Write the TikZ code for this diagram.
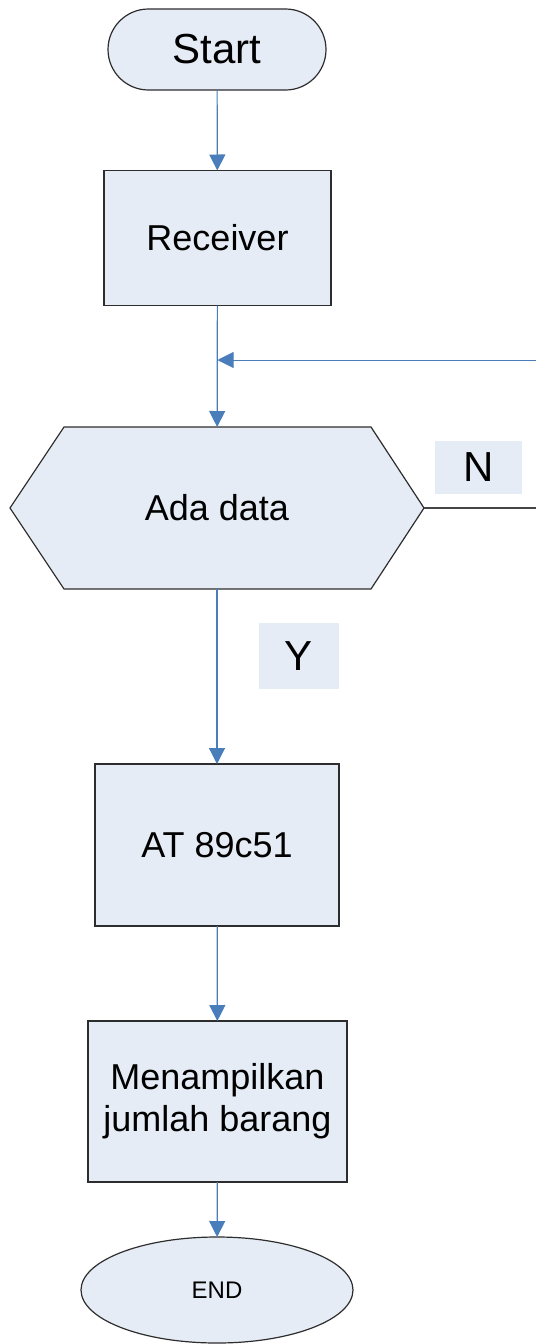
\documentclass[tikz,border=0pt]{standalone}
\usepackage{fontspec}
\setmainfont{Liberation Sans}
\usetikzlibrary{arrows.meta,shapes.misc,shapes.geometric}

\definecolor{boxfill}{RGB}{230,236,246}
\definecolor{boxline}{RGB}{45,45,45}
\definecolor{flowblue}{RGB}{74,126,187}
\definecolor{nline}{RGB}{70,70,70}

\tikzset{
  shapebase/.style={draw=boxline, fill=boxfill, line width=1.2pt,
    inner sep=0pt, outer sep=0pt, align=center, text=black},
  procbox/.style={shapebase, rectangle},
  terminal/.style={shapebase, rounded rectangle},
  endshape/.style={shapebase, ellipse},
  branchlabel/.style={fill=boxfill, inner sep=0pt, outer sep=0pt,
    font=\fontsize{42}{50}\selectfont},
  flow/.style={draw=flowblue, line width=1.2pt,
    -{Triangle[length=16pt,width=16pt]}, color=flowblue},
  backflow/.style={flow, line width=0.9pt},
  nflow/.style={draw=nline, line width=1.4pt}
}

\begin{document}
\begin{tikzpicture}[x=1pt,y=-1pt]
  \useasboundingbox (0,0) rectangle (536,1344);

  % terminals and process boxes
  \node[terminal, minimum width=218pt, minimum height=81pt,
        font=\fontsize{42}{50}\selectfont] (start) at (217,49.5) {Start};
  \node[procbox, minimum width=227pt, minimum height=135pt,
        font=\fontsize{36}{42}\selectfont] (recv) at (217.5,238) {Receiver};

  % decision: hexagon drawn around a frame node
  \node[inner sep=0pt, outer sep=0pt, minimum width=414pt, minimum height=162pt]
        (decide) at (217,508) {};
  \draw[shapebase]
    (decide.west) -- ([xshift=54pt]decide.north west)
    -- ([xshift=-53pt]decide.north east) -- (decide.east)
    -- ([xshift=-53pt]decide.south east) -- ([xshift=54pt]decide.south west)
    -- cycle;
  \node[font=\fontsize{36}{42}\selectfont] (decidetext) at (decide.center) {Ada data};

  \node[procbox, minimum width=244pt, minimum height=162pt,
        font=\fontsize{36}{42}\selectfont] (mcu) at (217,845) {AT 89c51};
  \node[procbox, minimum width=259pt, minimum height=161pt,
        font=\fontsize{36}{42}\selectfont] (show) at (217.5,1101.5)
        {Menampilkan\\jumlah barang};
  \node[endshape, minimum width=272pt, minimum height=106pt,
        font=\fontsize{24}{28}\selectfont] (finish) at (217,1290) {END};

  % branch labels
  \node[branchlabel, minimum width=87pt, minimum height=53pt] (nlabel)
        at (478.5,467.5) {N};
  \node[branchlabel, minimum width=80pt, minimum height=66pt] (ylabel)
        at (299,656) {Y};

  % connectors
  \coordinate (retstart) at (536,360);
  \coordinate (retjoin) at (recv.south |- retstart);
  \coordinate (nend) at (536,508);

  \draw[flow] (start) -- (recv);
  \draw[flow] (recv) -- (decide);
  \draw[backflow] (retstart) -- (retjoin);
  \draw[nflow] (decide.east) -- (nend);
  \draw[flow] (decide) -- (mcu);
  \draw[flow] (mcu) -- (show);
  \draw[flow] (show) -- (finish);
\end{tikzpicture}
\end{document}
